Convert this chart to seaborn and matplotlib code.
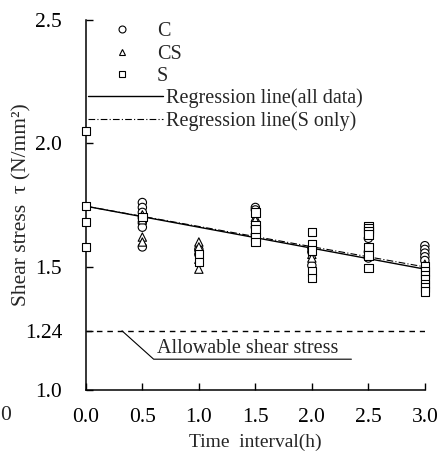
import numpy as np
import pandas as pd
import matplotlib
matplotlib.use("Agg")
import matplotlib.pyplot as plt
from matplotlib.lines import Line2D
import seaborn as sns

# measured shear stress per specimen type
c_time = [0.5] * 7 + [1.0] * 2 + [1.5] * 4 + [2.0] * 3 + [2.5] * 3 + [3.0] * 5
c_stress = [1.76, 1.74, 1.72, 1.70, 1.68, 1.66, 1.58,
            1.57, 1.55,
            1.74, 1.73, 1.66, 1.63,
            1.575, 1.56, 1.505,
            1.615, 1.56, 1.535,
            1.585, 1.57, 1.555, 1.54, 1.525]

cs_time = [0.5] * 4 + [1.0] * 4 + [1.5] * 2 + [2.0] * 2 + [3.0]
cs_stress = [1.71, 1.69, 1.62, 1.60,
             1.60, 1.58, 1.53, 1.49,
             1.70, 1.69,
             1.55, 1.535,
             1.51]

s_time = [0.0] * 4 + [0.5] + [1.0] * 2 + [1.5] * 5 + [2.0] * 5 + [2.5] * 7 + [3.0] * 7
s_stress = [2.05, 1.745, 1.68, 1.58,
            1.70,
            1.55, 1.52,
            1.72, 1.67, 1.65, 1.62, 1.60,
            1.64, 1.59, 1.565, 1.48, 1.455,
            1.665, 1.655, 1.643, 1.63, 1.58, 1.545, 1.495,
            1.50, 1.48, 1.465, 1.45, 1.43, 1.415, 1.40]

# regression lines (intercept, slope)
fit_all = (1.745, -0.085)
fit_s = (1.745, -0.082)
allowable = 1.24

x_ticks = [0.0, 0.5, 1.0, 1.5, 2.0, 2.5, 3.0]
y_ticks = [1.0, 1.24, 1.5, 2.0, 2.5]
y_ticklabels = ["1.0", "1.24", "1.5", "2.0", "2.5"]

df = pd.concat([
    pd.DataFrame({"time": c_time, "stress": c_stress, "type": "C"}),
    pd.DataFrame({"time": cs_time, "stress": cs_stress, "type": "CS"}),
    pd.DataFrame({"time": s_time, "stress": s_stress, "type": "S"}),
])

sns.set_style("ticks")
plt.rcParams["font.family"] = ["Liberation Serif", "DejaVu Serif"]

fig = plt.figure(figsize=(4.38, 4.53), dpi=100)
ax = fig.add_axes([0.196, 0.139, 0.774, 0.817])

markers = {"C": "o", "CS": "^", "S": "s"}
sns.scatterplot(data=df, x="time", y="stress", style="type", markers=markers,
                s=36, facecolor="white", edgecolor="black", linewidth=0.8,
                color="black", legend=False, ax=ax, zorder=3, clip_on=False)

xx = np.array([0.0, 3.0])
ax.plot(xx, fit_all[0] + fit_all[1] * xx, color="black", lw=1.0, zorder=2)
ax.plot(xx, fit_s[0] + fit_s[1] * xx, color="black", lw=0.8,
        dashes=(6, 2, 1, 2), zorder=2)
ax.plot(xx, [allowable, allowable], color="black", lw=1.0,
        dashes=(4, 3.5), zorder=2)

# annotation of the allowable line
ax.plot([0.32, 0.60, 2.35], [allowable, 1.125, 1.125], color="black", lw=0.8)
ax.text(0.63, 1.13, "Allowable shear stress", fontsize=14.5,
        ha="left", va="bottom")

ax.set_xlim(0, 3.0)
ax.set_ylim(1.0, 2.5)
ax.set_xticks(x_ticks)
ax.set_xticklabels([f"{t:.1f}" for t in x_ticks])
ax.set_yticks(y_ticks)
ax.set_yticklabels(y_ticklabels)
ax.tick_params(axis="both", direction="in", length=5, width=1.0,
               labelsize=15.5, colors="black")
ax.tick_params(axis="x", pad=13)
ax.tick_params(axis="y", pad=17)
for sp in ["top", "right"]:
    ax.spines[sp].set_visible(False)
for sp in ["left", "bottom"]:
    ax.spines[sp].set_linewidth(1.1)
    ax.spines[sp].set_color("black")

ax.set_xlabel("Time  interval(h)", fontsize=14, labelpad=5)
ax.set_ylabel("Shear stress  τ (N/mm²)", fontsize=15.5)
ax.yaxis.set_label_coords(-0.16, 0.5)

mk = dict(ls="none", mfc="white", mec="black", ms=5.0, mew=0.8)
leg1 = ax.legend(
    [Line2D([], [], marker="o", **mk),
     Line2D([], [], marker="^", **mk),
     Line2D([], [], marker="s", **mk)],
    ["C", "CS", "S"],
    loc="upper left", bbox_to_anchor=(0.012, 0.995), frameon=False,
    fontsize=14.5, handlelength=3.18, handletextpad=0.15,
    labelspacing=0.18, borderpad=0, borderaxespad=0)
ax.add_artist(leg1)
ax.legend(
    [Line2D([], [], color="black", lw=1.0),
     Line2D([], [], color="black", lw=0.8, dashes=(6, 2, 1, 2))],
    ["Regression line(all data)", "Regression line(S only)"],
    loc="upper left", bbox_to_anchor=(0.006, 0.816), frameon=False,
    fontsize=14.5, handlelength=3.73, handletextpad=0.15,
    labelspacing=0.18, borderpad=0, borderaxespad=0)

fig.text(0.013, 0.082, "0", fontsize=15.5, ha="center", va="center")

fig.savefig("out.png", dpi=100)
